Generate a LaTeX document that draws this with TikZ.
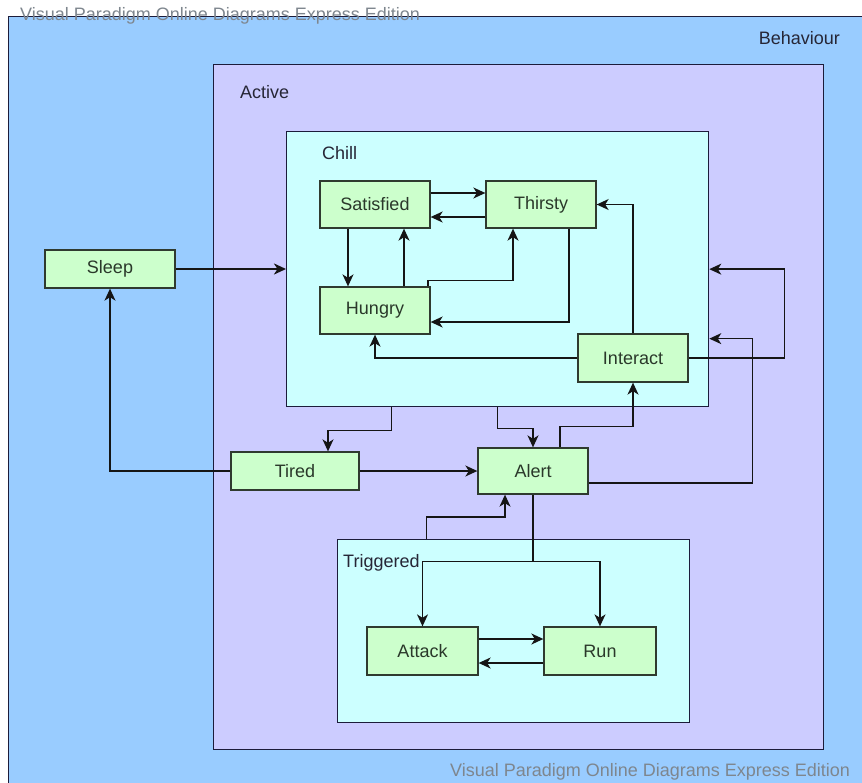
\documentclass[tikz,border=0pt]{standalone}
\usepackage{fontspec}
\setmainfont{Liberation Sans}
\usetikzlibrary{arrows.meta}
\definecolor{behblue}{HTML}{99CCFF}
\definecolor{actpurple}{HTML}{CCCCFF}
\definecolor{chillcyan}{HTML}{CCFFFF}
\definecolor{boxgreen}{HTML}{CCFFCC}
\definecolor{boxline}{HTML}{2F3A2F}
\definecolor{contline}{HTML}{1C1C3A}
\definecolor{boxtext}{HTML}{2A382A}
\definecolor{lbltext}{HTML}{262636}
\definecolor{linecol}{HTML}{151515}
\definecolor{wmtext}{HTML}{7E868E}
\begin{document}
\begin{tikzpicture}[x=1pt,y=-1pt,
  st/.style={draw=boxline, line width=1.3pt, fill=boxgreen, minimum width=110pt, minimum height=47pt, inner sep=0pt, font=\fontsize{18}{20}\selectfont, text=boxtext},
  cont/.style={draw=contline, line width=1.3pt, anchor=north west, inner sep=0pt},
  lbl/.style={font=\fontsize{18}{20}\selectfont, text=lbltext, anchor=west, inner sep=0pt},
  wm/.style={font=\fontsize{18}{20}\selectfont, text=wmtext, anchor=base west, inner sep=0pt},
  conn/.style={line width=1.4pt, draw=linecol, -{Stealth[length=12pt,width=11pt,inset=3.5pt]}},
  thickconn/.style={conn, line width=2.2pt},
  thickline/.style={line width=2.4pt, draw=linecol},
  ]
\useasboundingbox (0,0) rectangle (862,782);
\clip (0,0) rectangle (862,782);
\fill[white] (0,0) rectangle (862,782);
% containers
\node[cont, fill=behblue, minimum width=880pt, minimum height=800pt] (beh) at (8,16) {};
\node[cont, fill=actpurple, minimum width=610pt, minimum height=685pt] (act) at (213,64) {};
\node[cont, fill=chillcyan, minimum width=422pt, minimum height=275pt] (chill) at (286,131) {};
\node[cont, fill=chillcyan, minimum width=352pt, minimum height=183pt] (trig) at (337,539) {};
% container labels
\node[lbl, anchor=east] (behl) at (840,38) {Behaviour};
\node[lbl] (actl) at (240,92) {Active};
\node[lbl] (chilll) at (322,153) {Chill};
\node[lbl] (trigl) at (343,563) {Triggered};
% states
\node[st] (sat) at (375,204.5) {Satisfied};
\node[st] (thi) at (541,204.5) {Thirsty};
\node[st] (hun) at (375,310.5) {Hungry};
\node[st, minimum height=48pt] (int) at (633,358) {Interact};
\node[st, minimum width=130pt, minimum height=38pt] (sleep) at (110,269) {Sleep};
\node[st, minimum width=128pt, minimum height=38pt] (tired) at (295,471) {Tired};
\node[st, minimum height=46pt] (alert) at (533,471) {Alert};
\node[st, minimum width=111pt, minimum height=48pt] (att) at (422.5,651) {Attack};
\node[st, minimum width=112pt, minimum height=48pt] (run) at (600,651) {Run};
% connectors inside Chill
\draw[conn] ([yshift=11.5pt]sat.east) -- ([yshift=11.5pt]sat.east -| thi.west);
\draw[conn] ([yshift=-12.5pt]thi.west) -- ([yshift=-12.5pt]thi.west -| sat.east);
\draw[conn] ([xshift=-27pt]sat.south) -- ([xshift=-27pt]hun.north);
\draw[conn] ([xshift=29pt]hun.north) -- ([xshift=29pt]sat.south);
\draw[conn] ([xshift=53pt]hun.north) -- ++(0,-6) -| ([xshift=-28pt]thi.south);
\draw[conn] ([xshift=28pt]thi.south) |- ([yshift=-11.5pt]hun.east);
\draw[conn] (int.west) -| (hun.south);
\draw[conn] (int.north) |- (thi.east);
% connectors to Chill's right edge
\draw[conn] (int.east) -- ++(96,0) |- (chill.east);
\draw[conn] ([yshift=-12pt]alert.east) -- ++(164,0) |- ([yshift=-69.5pt]chill.east);
% Sleep / Tired / Alert
\draw[thickconn] (sleep.east) -- (sleep.east -| chill.west);
\draw[conn] (tired.west) -| (sleep.south);
\draw[conn] ([xshift=-106pt]chill.south) -- ++(0,23) -| ([xshift=33pt]tired.north);
\draw[conn] (chill.south) -- ++(0,21) -| (alert.north);
\draw[conn] (tired.east) -- (tired.east -| alert.west);
\draw[conn] ([xshift=27pt]alert.north) -- ++(0,-21) -| (int.south);
\draw[conn] ([xshift=-87pt]trig.north) -- ++(0,-22) -| ([xshift=-28pt]alert.south);
% Alert into Triggered
\draw[thickline] (alert.south) -- ++(0,67) coordinate (fork);
\draw[conn] (fork) -| (att.north);
\draw[conn] (fork) -| (run.north);
\draw[conn] ([yshift=12pt]att.east) -- ([yshift=12pt]att.east -| run.west);
\draw[conn] ([yshift=-12pt]run.west) -- ([yshift=-12pt]run.west -| att.east);
% watermarks
\node[wm] (wm1) at (20,20.5) {Visual Paradigm Online Diagrams Express Edition};
\node[wm] (wm2) at (450,776.5) {Visual Paradigm Online Diagrams Express Edition};
\end{tikzpicture}
\end{document}
